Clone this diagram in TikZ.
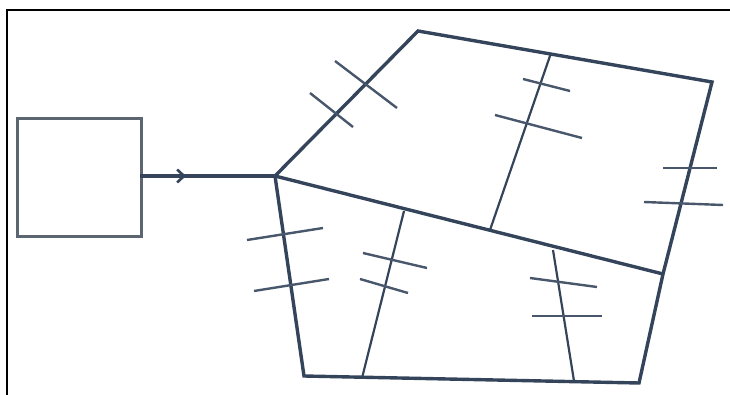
\documentclass[tikz,border=0pt]{standalone}
\usetikzlibrary{arrows.meta}
\definecolor{ink}{HTML}{34445A}
\definecolor{boxc}{HTML}{5C6670}
\begin{document}
\begin{tikzpicture}[x=1pt,y=-1pt,
  edge/.style={draw=ink,line width=3.4pt,line join=miter},
  inner/.style={draw=ink,line width=2.2pt},
  tick/.style={draw=ink!90,line width=2.4pt},
  frame/.style={draw=black,line width=2.6pt}]
\useasboundingbox (0,0) rectangle (730,395);
% frame (top and left)
\draw[frame] (7,400) -- (7,10) -- (735,10);
% box
\node[draw=boxc,line width=2.6pt,minimum width=124pt,minimum height=118pt,inner sep=0pt,anchor=north west] (box) at (16,117) {};
% polygon vertices
\coordinate (J) at (275,176);
\coordinate (T1) at (418,31);
\coordinate (T2) at (712,82);
\coordinate (R) at (663,274);
\coordinate (B2) at (639,383);
\coordinate (B1) at (304,376);
% arrow
\coordinate (A) at (140,176);
\coordinate (Ah) at (186,176);
\draw[draw=ink,line width=3.2pt] (A) -- (J);
\draw[draw=ink,line width=2.6pt,-{Straight Barb[length=7pt,width=13pt,line width=2.6pt]}] (172,176) -- (Ah);
% outline
\draw[edge] (J) -- (T1) -- (T2) -- (R) -- (B2) -- (B1) -- cycle;
\draw[edge] (J) -- (R);
% inner lines
\coordinate (U1) at (551,53);
\coordinate (U2) at (490,230);
\draw[inner] (U1) -- (U2);
\coordinate (L1) at (404,211);
\coordinate (L2) at (362,378);
\draw[inner] (L1) -- (L2);
\coordinate (M1) at (553,250);
\coordinate (M2) at (574,381);
\draw[inner] (M1) -- (M2);
% ticks on J-T1
\draw[tick] (335,61) -- (397,108);
\draw[tick] (310,93) -- (353,127);
% ticks on upper inner line
\draw[tick] (523,79) -- (570,91);
\draw[tick] (495,115) -- (582,138);
% ticks on right edge
\draw[tick] (663,168) -- (717,168);
\draw[tick] (644,202) -- (723,205);
% ticks on left edge
\draw[tick] (247,240) -- (323,228);
\draw[tick] (254,291) -- (329,279);
% ticks on lower left inner line
\draw[tick] (363,253) -- (427,268);
\draw[tick] (360,279) -- (408,293);
% ticks on lower right inner line
\draw[tick] (530,278) -- (597,287);
\draw[tick] (532,316) -- (602,316);
\end{tikzpicture}
\end{document}
